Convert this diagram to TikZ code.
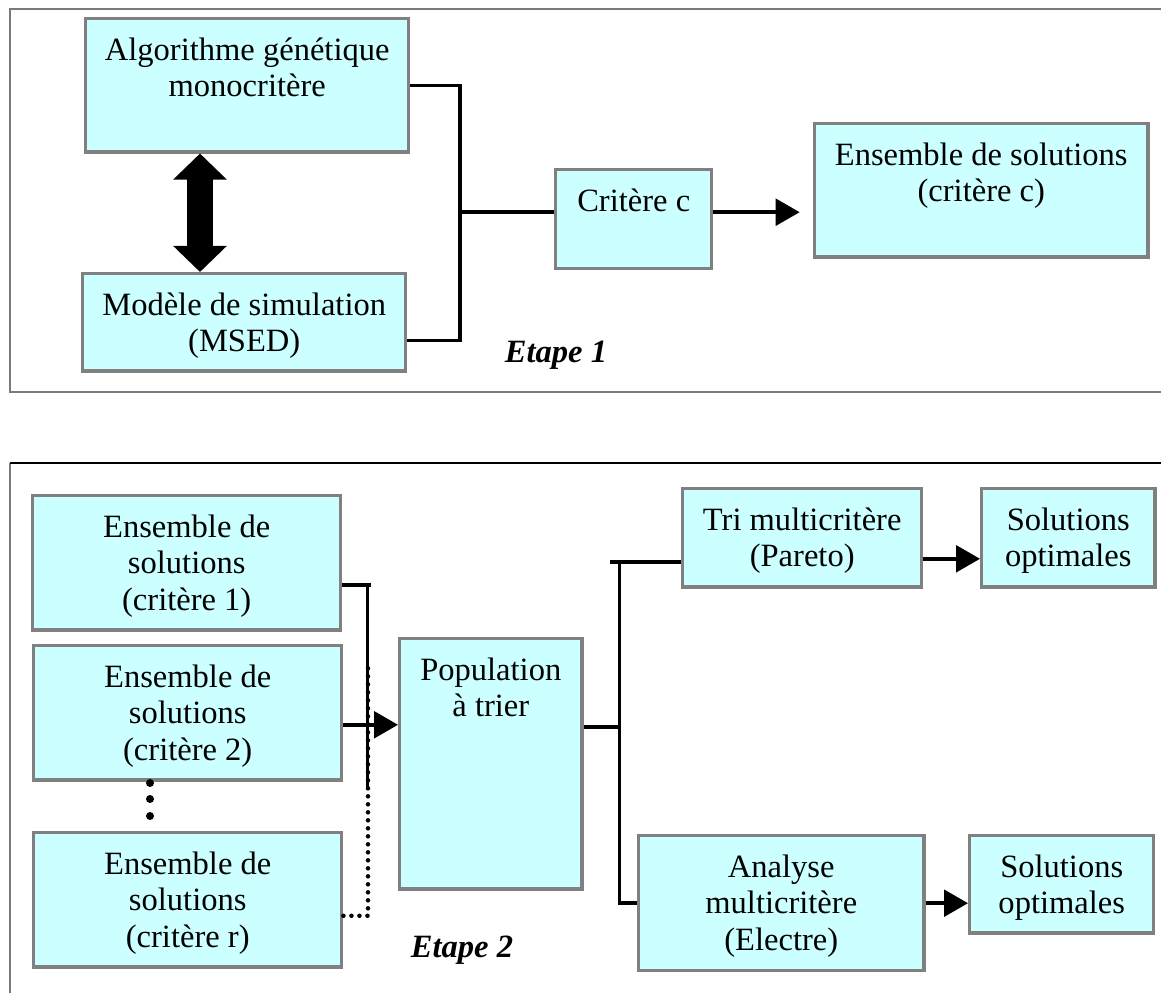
\documentclass[tikz,border=0pt]{standalone}
\usepackage{fontspec}
\setmainfont{Liberation Serif}
\usetikzlibrary{calc,arrows.meta}
\definecolor{boxfill}{HTML}{CCFFFF}
\definecolor{boxline}{HTML}{808080}
\definecolor{frmline}{HTML}{7A7A7A}
\tikzset{
  bx/.style n args={3}{rectangle, draw=boxline, line width=1.3pt, fill=boxfill, anchor=north west, align=flush center, inner xsep=0pt, inner ysep=5.5pt, text height=10pt, text width=#1, text depth=#2-#3, font=\fontsize{12.2pt}{13.8pt}\selectfont},
  ln/.style={line width=1.3pt},
  fl/.style={line width=1.3pt, -{Triangle[length=9pt,width=10pt]}},
  dbl/.style={line width=9.5pt, {Triangle[length=9.75pt,width=19.5pt]}-{Triangle[length=9.75pt,width=19.5pt]}},
  etp/.style={anchor=base, font=\fontsize{12.2pt}{13.8pt}\selectfont\bfseries\itshape},
  frm/.style={draw=frmline, line width=0.75pt}
}
\begin{document}
\begin{tikzpicture}[x=0.375pt,y=-0.375pt]
	\useasboundingbox (0,0) rectangle (1161,993);
	% etape 1
	\draw[frm] (1161,9) -- (10,9) -- (10,392) -- (1161,392);
	\node[bx={121.1pt}{49.9pt}{21pt}] (algo) at (84,17) {Algorithme génétique\\ monocritère};
	\node[bx={121.1pt}{36.4pt}{21pt}] (msed) at (81,272) {Modèle de simulation\\ (MSED)};
	\node[bx={58.5pt}{37.1pt}{21pt}] (crit) at (554,168) {Critère c};
	\node[bx={124.9pt}{49.9pt}{21pt}] (ensc) at (813,122) {Ensemble de solutions\\ (critère c)};
	\node[etp] (et1) at (556,363) {Etape 1};
	%
	\coordinate (dx) at (200,0);
	\coordinate (jt) at (460,212);
	\coordinate (co) at ($(crit.east)+(0,-7)$);
	\draw[dbl] (algo.south -| dx) -- (msed.north -| dx);
	\draw[ln] (algo.east) -| (jt) |- ($(msed.east)+(0,18)$);
	\draw[ln] (jt) -- (jt -| crit.west);
	\draw[fl, shorten >=5pt] (co) -- (co -| ensc.west);
	% etape 2
	\draw[frm] (10,993) -- (10,463);
	\draw[line width=0.75pt] (10,463) -- (1161,463);
	\node[bx={115.5pt}{50.3pt}{21pt}] (e1) at (31,494) {Ensemble de\\ solutions\\ (critère 1)};
	\node[bx={115.5pt}{50.3pt}{21pt}] (e2) at (32,644) {Ensemble de\\ solutions\\ (critère 2)};
	\node[bx={115.5pt}{50.3pt}{21pt}] (er) at (32,831) {Ensemble de\\ solutions\\ (critère r)};
	\node[bx={68.3pt}{93.8pt}{21pt}] (pop) at (398,637) {Population\\ à trier};
	\node[bx={89.6pt}{36.8pt}{21pt}] (tri) at (681,487) {Tri multicritère\\ (Pareto)};
	\node[bx={64.9pt}{36.8pt}{21pt}] (sol1) at (980,487) {Solutions\\ optimales};
	\node[bx={106.9pt}{50.6pt}{21pt}] (ana) at (637,834) {Analyse\\ multicritère\\ (Electre)};
	\node[bx={69pt}{36.4pt}{21pt}] (sol2) at (968,834) {Solutions\\ optimales};
	\node[etp] (et2) at (462,958) {Etape 2};
	%
	\foreach \yy in {783,799,816}
		\fill (150,\yy) circle (1.5pt);
	\coordinate (j1) at ($(e1.east)+(0,22)$);
	\coordinate (vb1) at ($(j1)+(25,0)$);
	\coordinate (vb2) at ($(vb1)+(0,205)$);
	\coordinate (j2) at ($(e2.east)+(0,12)$);
	\coordinate (j3) at ($(er.east)+(0,16)$);
	\coordinate (jr) at (368,664);
	\draw[ln] (j1) -- ++(29,0);
	\draw[ln] (vb1) -- (vb2);
	\draw[line width=1.7pt, line cap=round, dash pattern=on 0pt off 3pt] (j3) -| (jr);
	\draw[fl] (j2) -- (j2 -| pop.west);
	%
	\coordinate (j4) at ($(pop.east)+(0,-37)$);
	\coordinate (jm) at ($(j4)+(36,0)$);
	\coordinate (j5) at ($(tri.west)+(0,24)$);
	\coordinate (j6) at ($(tri.east)+(0,21)$);
	\draw[ln] (j4) -- (jm);
	\draw[ln] (j5) -- ++(-71,0);
	\draw[ln] (j5 -| jm) -- (ana.west -| jm) -- (ana.west);
	\draw[fl] (j6) -- (j6 -| sol1.west);
	\draw[fl] (ana.east) -- (ana.east -| sol2.west);
\end{tikzpicture}
\end{document}
